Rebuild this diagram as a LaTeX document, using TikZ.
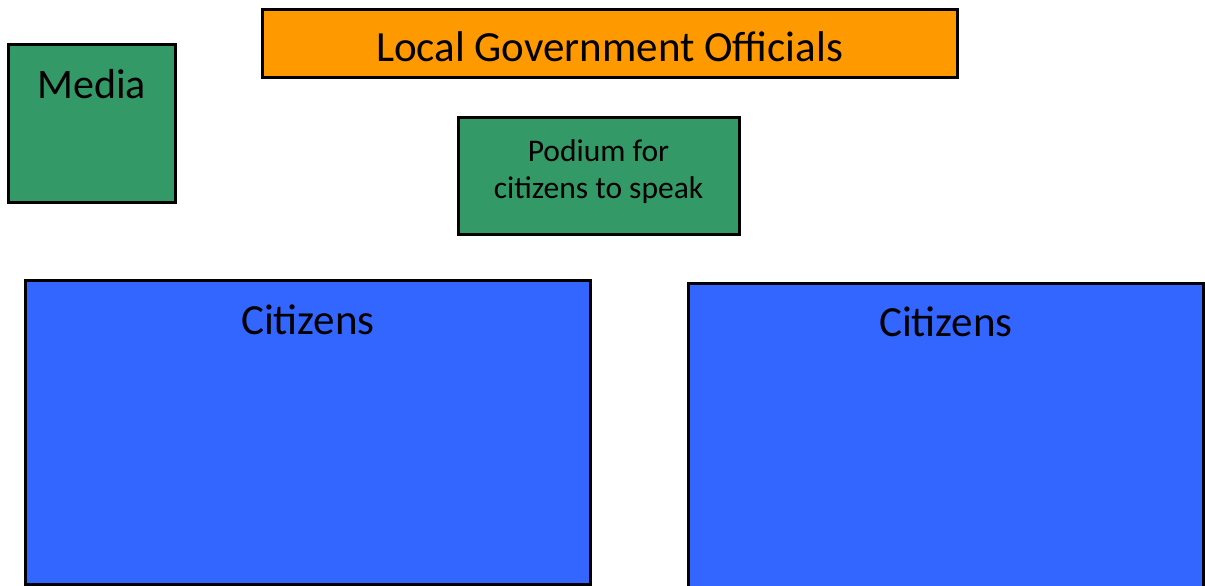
\documentclass[tikz,border=0pt]{standalone}
\usepackage{fontspec}
\setmainfont{Carlito}
\definecolor{govorange}{HTML}{FF9900}
\definecolor{boxgreen}{HTML}{339966}
\definecolor{citblue}{HTML}{3366FF}
\tikzset{
  box/.style={draw=black, line width=3pt, rectangle, inner sep=0pt},
  lbl/.style={inner sep=0pt, text=black, align=center},
}
\begin{document}
\begin{tikzpicture}[x=1pt,y=-1pt]
\useasboundingbox (0,0) rectangle (1205,586);
\clip (0,0) rectangle (1205,586);
\node[box, fill=govorange, minimum width=695pt, minimum height=68pt] (gov) at (609.5,44) {};
\node[lbl, font=\fontsize{43}{48}\selectfont] (govt) at (609.5,47) {Local Government Officials};
\node[box, fill=boxgreen, minimum width=167pt, minimum height=157pt] (media) at (91.5,123.5) {};
\node[lbl, font=\fontsize{42}{48}\selectfont] (mediat) at (91.5,84) {Media};
\node[box, fill=boxgreen, minimum width=281pt, minimum height=117pt] (podium) at (598.5,175.5) {};
\node[lbl, font=\fontsize{31.5}{37}\selectfont] (podiumt) at (598.5,172) {Podium for\\citizens to speak};
\node[box, fill=citblue, minimum width=565pt, minimum height=304pt] (cit1) at (307.5,432.5) {};
\node[lbl, font=\fontsize{43}{48}\selectfont] (cit1t) at (308,320) {Citizens};
\node[box, fill=citblue, minimum width=515pt, minimum height=337pt] (cit2) at (945.5,451.5) {};
\node[lbl, font=\fontsize{43}{48}\selectfont] (cit2t) at (946,322) {Citizens};
\end{tikzpicture}
\end{document}
